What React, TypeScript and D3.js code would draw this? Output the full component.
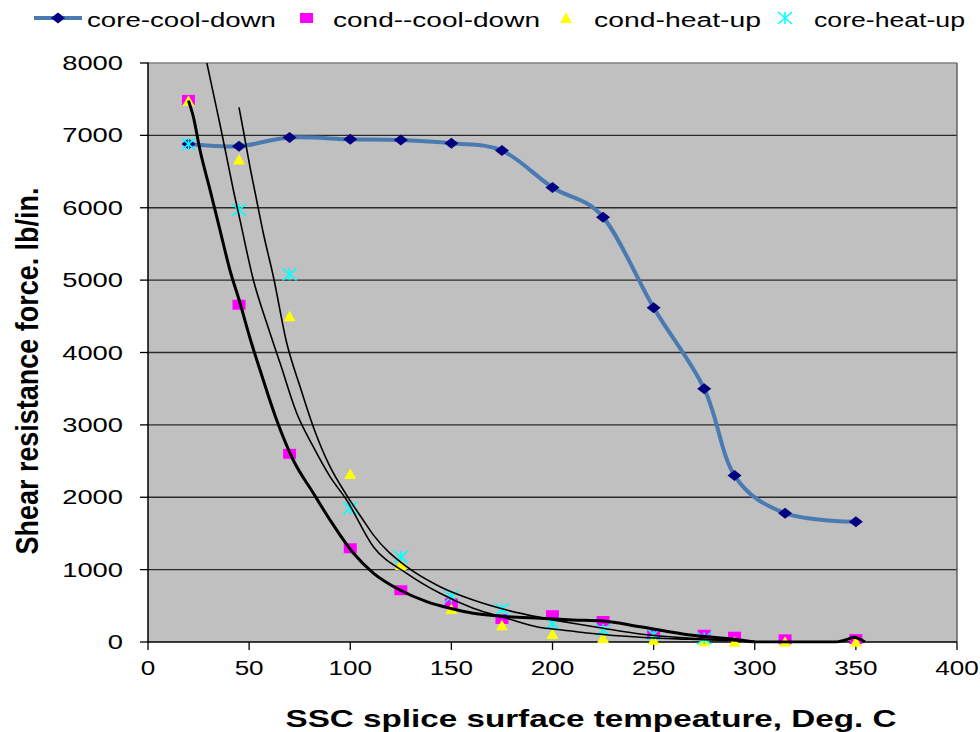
import React from "react";
import * as d3 from "d3";

const temps = [20, 45, 70, 100, 125, 150, 175, 200, 225, 250, 275, 290, 315, 350];
const coreCoolDown = [6880, 6850, 6970, 6945, 6935, 6890, 6790, 6280, 5870, 4620, 3500, 2300, 1780, 1660];
const condCoolDown = [7490, 4660, 2600, 1295, 715, 535, 318, 370, 290, 106, 100, 73, 37, 40];
const condHeatUp = [7480, 6665, 4500, 2320, 1065, 455, 230, 110, 55, 30, 10, 5, 5, 5];
const coreHeatUp = [6880, 5970, 5080, 1850, 1175, 625, 450, 255, 166, 106, 51, null, null, null];

// trend curves: [temperature, force]
const trendBold: [number, number][] = [
  [20, 7480], [22.4, 7258], [25.7, 6798], [30.7, 6245], [35.6, 5692], [40.5, 5140],
  [45.5, 4684], [50.4, 4200], [55.4, 3758], [63.6, 3067], [71.8, 2515], [81.7, 2059],
  [90, 1686], [101.5, 1229], [111.4, 953], [124.6, 718], [137.8, 557], [149.3, 466],
  [160.8, 397], [177.4, 350], [193.8, 327], [210, 305], [225, 290], [243.3, 211],
  [268, 97], [292.7, 28], [300, 0], [340, 0], [346, 40], [349, 65], [352, 40], [354.5, 0],
];
const trendThinA: [number, number][] = [
  [27, 8270], [29, 8013], [32.3, 7581], [35.6, 7150], [38.9, 6700], [42.2, 6245],
  [45.5, 5830], [52.1, 5001], [58.7, 4407], [65.3, 3854], [73.5, 3164], [81.7, 2698],
  [90, 2284], [98.2, 1962], [111.4, 1317], [127.9, 949], [144.4, 673], [160.8, 466],
  [177.4, 327], [193.8, 200], [203.7, 170], [218.5, 120], [243.3, 65], [268, 37],
  [292.7, 14], [300, 5],
];
const trendThinB: [number, number][] = [
  [45, 7387], [47.1, 7074], [50.4, 6567], [53.7, 6107], [57, 5651], [62, 5047],
  [68.6, 4131], [75.2, 3527], [81.7, 2975], [90, 2422], [98.2, 2030], [105.7, 1713],
  [111.4, 1480], [127.9, 1040], [144.4, 764], [160.8, 580], [177.4, 442], [193.8, 340],
  [210, 260], [225, 190], [243.3, 110], [268, 51], [292.7, 18], [300, 5],
];

const xTicks = [0, 50, 100, 150, 200, 250, 300, 350, 400];
const yTicks = [0, 1000, 2000, 3000, 4000, 5000, 6000, 7000, 8000];

const legendItems = ["core-cool-down", "cond--cool-down", "cond-heat-up", "core-heat-up"];

const FONT = "'Liberation Sans', Arial, sans-serif";

const L = 148, R = 957, T = 63, B = 642;

function Diamond({ cx, cy }: { cx: number; cy: number }) {
  return <polygon points={`${cx - 7},${cy} ${cx},${cy - 5.5} ${cx + 7},${cy} ${cx},${cy + 5.5}`} fill="#000080" />;
}
function Square({ cx, cy }: { cx: number; cy: number }) {
  return <rect x={cx - 6.5} y={cy - 5} width={13} height={10} fill="#FF00FF" />;
}
function Tri({ cx, cy }: { cx: number; cy: number }) {
  return <polygon points={`${cx - 6},${cy + 5} ${cx},${cy - 5.5} ${cx + 6},${cy + 5}`} fill="#FFFF00" />;
}
function Star({ cx, cy }: { cx: number; cy: number }) {
  return (
    <g stroke="#00FFFF" strokeWidth={1.6}>
      <line x1={cx} y1={cy - 6} x2={cx} y2={cy + 6} />
      <line x1={cx - 7} y1={cy - 6} x2={cx + 7} y2={cy + 6} />
      <line x1={cx - 7} y1={cy + 6} x2={cx + 7} y2={cy - 6} />
    </g>
  );
}

export default function App() {
  const x = d3.scaleLinear().domain([0, 400]).range([L, R]);
  const y = d3.scaleLinear().domain([0, 8000]).range([B, T]);

  const blueLine = d3
    .line<number>()
    .x((_, i) => x(temps[i]))
    .y((d) => y(d))
    .curve(d3.curveCardinal.tension(0));

  const trendLine = d3
    .line<[number, number]>()
    .x((d) => x(d[0]))
    .y((d) => y(d[1]))
    .curve(d3.curveMonotoneX);

  const legendX = [87, 333, 594, 814];
  const legendLen = [189, 207, 167, 151];

  return (
    <svg width={980} height={732} style={{ position: "absolute", left: 0, top: 0, background: "#fff" }} fontFamily={FONT}>
      <defs>
        <clipPath id="plotclip">
          <rect x={L} y={T} width={R - L} height={B - T + 1.5} />
        </clipPath>
      </defs>
      {/* plot background */}
      <rect x={L} y={T} width={R - L} height={B - T} fill="#C0C0C0" />
      {/* grid lines */}
      {yTicks.slice(1, -1).map((t) => (
        <line key={t} x1={L} x2={R} y1={y(t)} y2={y(t)} stroke="#2b2b2b" strokeWidth={1.3} />
      ))}
      {/* borders */}
      <line x1={L} x2={R} y1={T} y2={T} stroke="#808080" strokeWidth={1.3} />
      <line x1={R} x2={R} y1={T} y2={B} stroke="#505050" strokeWidth={1.3} />
      <line x1={L} x2={L} y1={T - 0.5} y2={B + 0.5} stroke="#000" strokeWidth={1.5} />
      <line x1={L} x2={R} y1={B} y2={B} stroke="#000" strokeWidth={1.5} />
      {/* ticks */}
      {yTicks.map((t) => (
        <line key={"yt" + t} x1={L - 8} x2={L} y1={y(t)} y2={y(t)} stroke="#000" strokeWidth={1.3} />
      ))}
      {xTicks.map((t) => (
        <line key={"xt" + t} x1={x(t)} x2={x(t)} y1={B} y2={B + 8} stroke="#000" strokeWidth={1.3} />
      ))}
      {/* tick labels */}
      {yTicks.map((t) => (
        <text key={"yl" + t} x={123} y={y(t) + 7} fontSize={20} textAnchor="end"
          textLength={String(t).length * 15.2} lengthAdjust="spacingAndGlyphs">{t}</text>
      ))}
      {xTicks.map((t) => (
        <text key={"xl" + t} x={x(t)} y={675} fontSize={20} textAnchor="middle"
          textLength={String(t).length * 14.5} lengthAdjust="spacingAndGlyphs">{t}</text>
      ))}
      {/* axis titles */}
      <text x={591} y={727} fontSize={24} fontWeight="bold" textAnchor="middle"
        textLength={611} lengthAdjust="spacingAndGlyphs">SSC splice surface tempeature, Deg. C</text>
      <text transform="translate(38,371) rotate(-90)" fontSize={32} fontWeight="bold" textAnchor="middle"
        textLength={367} lengthAdjust="spacingAndGlyphs">Shear resistance force. lb/in.</text>

      {/* core-cool-down line */}
      <path d={blueLine(coreCoolDown) || ""} fill="none" stroke="#4A7AB2" strokeWidth={4} />
      {coreCoolDown.map((v, i) => <Diamond key={"d" + i} cx={x(temps[i])} cy={y(v)} />)}
      {condCoolDown.map((v, i) => <Square key={"s" + i} cx={x(temps[i])} cy={y(v)} />)}
      {condHeatUp.map((v, i) => <Tri key={"t" + i} cx={x(temps[i])} cy={y(v)} />)}
      {coreHeatUp.map((v, i) => (v == null ? null : <Star key={"a" + i} cx={x(temps[i])} cy={y(v)} />))}

      {/* trend lines */}
      <g clipPath="url(#plotclip)" fill="none" stroke="#000">
        <path d={trendLine(trendThinA) || ""} strokeWidth={1.6} />
        <path d={trendLine(trendThinB) || ""} strokeWidth={1.6} />
        <path d={trendLine(trendBold) || ""} strokeWidth={3} />
      </g>

      {/* legend */}
      <line x1={34} x2={82} y1={18} y2={18} stroke="#4A7AB2" strokeWidth={4} />
      <Diamond cx={58} cy={18} />
      <Square cx={306.5} cy={18} />
      <Tri cx={566} cy={18} />
      <Star cx={785} cy={18} />
      {legendItems.map((s, i) => (
        <text key={s} x={legendX[i]} y={26.5} fontSize={20} textLength={legendLen[i]} lengthAdjust="spacingAndGlyphs">{s}</text>
      ))}
    </svg>
  );
}
